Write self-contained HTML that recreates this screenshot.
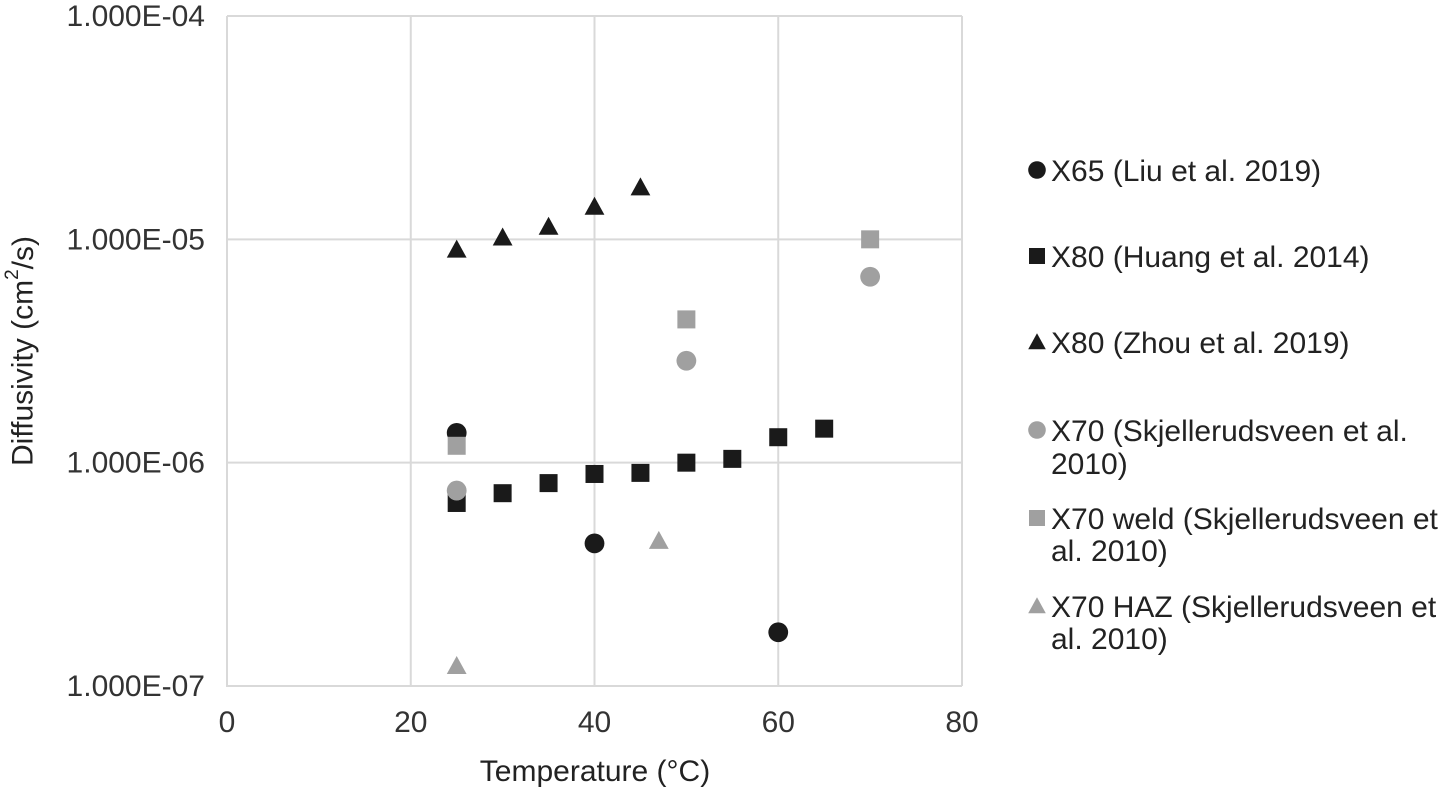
<!DOCTYPE html>
<html><head><meta charset="utf-8"><style>
body{margin:0;background:#fff;}
svg{display:block;font-family:"Liberation Sans",sans-serif;}
</style></head><body>
<svg id="chart" width="1441" height="788">
<g id="grid"></g>
<g id="axes"></g>
<g id="marks"></g>
<text x="23" y="351" font-size="30" fill="#222" text-anchor="middle" dominant-baseline="central" transform="rotate(-90 23 351)">Diffusivity (cm<tspan font-size="19" dy="-11">2</tspan><tspan dy="11">/s)</tspan></text>
<text x="595" y="781" font-size="30" fill="#222" text-anchor="middle">Temperature (°C)</text>
<g id="legend"></g>
</svg>
<script>
const xTicks=[0,20,40,60,80];
const yTicks=[-7,-6,-5,-4];
const yTickLabels=["1.000E-07","1.000E-06","1.000E-05","1.000E-04"];
const seriesNames=["X65 (Liu et al. 2019)","X80 (Huang et al. 2014)","X80 (Zhou et al. 2019)","X70 (Skjellerudsveen et al.|2010)","X70 weld (Skjellerudsveen et|al. 2010)","X70 HAZ (Skjellerudsveen et|al. 2010)"];
const x65T=[25,40,60]; const x65D=[1.36e-6,4.35e-7,1.74e-7];
const huangT=[25,30,35,40,45,50,55,60,65]; const huangD=[6.6e-7,7.3e-7,8.1e-7,8.9e-7,9.0e-7,1.0e-6,1.04e-6,1.3e-6,1.42e-6];
const zhouT=[25,30,35,40,45]; const zhouD=[9.0e-6,1.02e-5,1.14e-5,1.4e-5,1.71e-5];
const x70T=[25,50,70]; const x70D=[7.5e-7,2.86e-6,6.8e-6];
const weldT=[25,50,70]; const weldD=[1.19e-6,4.38e-6,1.0e-5];
const hazT=[25,47]; const hazD=[1.23e-7,4.47e-7];
const NS="http://www.w3.org/2000/svg";
const X0=227,X1=962,Y0=686,Y1=16;
const sx=v=>X0+(v-0)/80*(X1-X0);
const sy=v=>Y0-(Math.log10(v)+7)/3*(Y0-Y1);
const syl=l=>Y0-(l+7)/3*(Y0-Y1);
function mk(tag,at,parent){const e=document.createElementNS(NS,tag);for(const k in at)e.setAttribute(k,at[k]);parent.appendChild(e);return e;}
const grid=document.getElementById('grid'),axes=document.getElementById('axes'),marks=document.getElementById('marks'),legend=document.getElementById('legend');
xTicks.forEach(t=>{const l=mk('line',{x1:sx(t),x2:sx(t),y1:Y1,y2:Y0,stroke:'#d9d9d9','stroke-width':2},grid);


const tx=mk('text',{x:sx(t),y:Y0+46,'font-size':30,fill:'#333','text-anchor':'middle'},axes);tx.textContent=t;

});
yTicks.forEach((t,i)=>{const l=mk('line',{x1:X0,x2:X1,y1:syl(t),y2:syl(t),stroke:'#d9d9d9','stroke-width':2},grid);


const tx=mk('text',{x:X0-22,y:syl(t)+10,'font-size':30,fill:'#333','text-anchor':'end'},axes);tx.textContent=yTickLabels[i];

});
const ax=mk('path',{d:`M${X0},${Y1}V${Y0}H${X1}`,stroke:'#d9d9d9','stroke-width':2,fill:'none'},axes);
function marker(shape,cx,cy,col,s,parent){
 if(shape==='c')return mk('circle',{cx,cy,r:s*0.55,fill:col},parent);
 if(shape==='s')return mk('rect',{x:cx-s/2,y:cy-s/2,width:s,height:s,fill:col},parent);
 return mk('path',{d:`M${cx},${cy-s*0.55}L${cx+s*0.55},${cy+s*0.45}L${cx-s*0.55},${cy+s*0.45}Z`,fill:col},parent);}
const series=[[x65T,x65D,'c','#1a1a1a'],[huangT,huangD,'s','#1a1a1a'],[zhouT,zhouD,'t','#1a1a1a'],[x70T,x70D,'c','#a0a0a0'],[weldT,weldD,'s','#a0a0a0'],[hazT,hazD,'t','#a0a0a0']];
const legY=[[181],[267],[353],[441,474],[529,561],[617,649]];
series.forEach((s,i)=>{s[0].forEach((t,j)=>{const m=marker(s[2],sx(t),sy(s[1][j]),s[3],18,marks);

});
const g=mk('g',{},legend);


marker(s[2],1037,legY[i][0]-11,s[3],16,g);
seriesNames[i].split('|').forEach((ln,k)=>{const tx=mk('text',{x:1051,y:legY[i][k],'font-size':30,fill:'#222'},g);tx.textContent=ln;});});
</script>
</body></html>
